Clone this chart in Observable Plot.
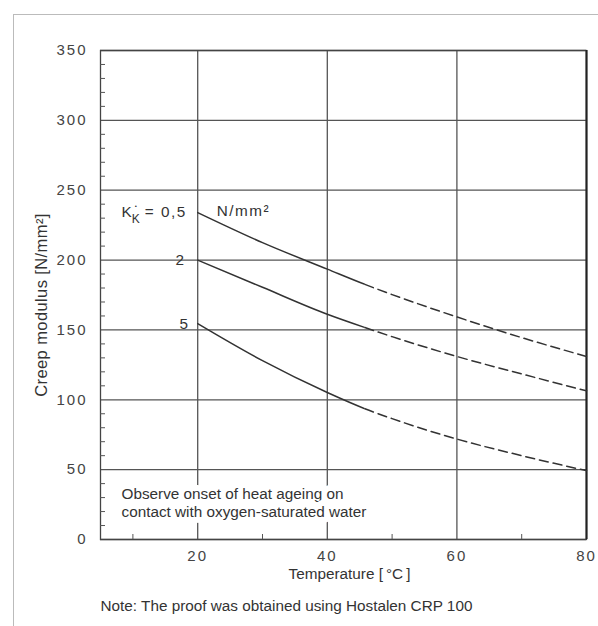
<!DOCTYPE html>
<html>
<head>
<meta charset="utf-8">
<script src="https://cdn.jsdelivr.net/npm/d3@7"></script>
<script src="https://cdn.jsdelivr.net/npm/@observablehq/plot@0.6"></script>
<style>
html, body { margin: 0; padding: 0; background: #fff; }
#wrap { position: relative; width: 598px; height: 626px; overflow: hidden; }
#chart { position: absolute; left: 0; top: 0; }
#border { position: absolute; left: 13px; top: 14px; right: -10px; bottom: -10px;
  border-left: 1.5px solid #bbb; border-top: 1.5px solid #bbb; pointer-events: none; }
#chart g[aria-label="y-axis tick label"] text,
#chart g[aria-label="x-axis tick label"] text { letter-spacing: 2px; }
.spaced text { letter-spacing: 1.5px; }
.ylab text { letter-spacing: 0.4px; }
</style>
</head>
<body>
<div id="wrap"><div id="chart"></div><div id="border"></div></div>
<script>
// Temperatures (°C) at which the curves were read
const temps = [20, 30, 40, 45.8, 50, 60, 70, 80];
// Solid (measured) part ends here, dashed (extrapolated) beyond
const solidEnd = 45.8;
// Creep modulus (N/mm²) for each creep stress K
const k05 = [234, 212.5, 193.5, 182.6, 175.3, 159.3, 144.5, 131];
const k2  = [200, 180.5, 161.2, 151.7, 145.2, 131, 118.5, 106.4];
const k5  = [154.5, 128, 105.2, 93.6, 86.5, 71.9, 60, 49.3];
const seriesNames = ["0,5", "2", "5"];
const seriesValues = [k05, k2, k5];

const yTicks = [0, 50, 100, 150, 200, 250, 300, 350];
const yMinor = [10, 20, 30, 40, 60, 70, 80, 90, 110, 120, 130, 140, 160, 170, 180, 190,
                210, 220, 230, 240, 260, 270, 280, 290, 310, 320, 330, 340];
const xTicks = [20, 40, 60, 80];
const xMinor = [10, 30, 50, 70];
const xDomain = [5, 80];
const yDomain = [0, 350];

const yLabel = "Creep modulus [N/mm²]";
const xLabel = "Temperature [\u2009°C\u2009]";
const note = "Note: The proof was obtained using Hostalen CRP 100";
const observe = "Observe onset of heat ageing on\ncontact with oxygen-saturated water";

const rows = [];
seriesNames.forEach((k, i) => temps.forEach((t, j) => rows.push({k, t, v: seriesValues[i][j]})));
const start = (i) => [{t: temps[0], v: seriesValues[i][0]}];

const grid = {stroke: "#555", strokeOpacity: 1, strokeWidth: 1.3};
const txt = {fill: "#333", fontSize: 15.3};
const dash = [9, 5];

const plot = Plot.plot({
  width: 598,
  height: 626,
  marginLeft: 100,
  marginRight: 12,
  marginTop: 50,
  marginBottom: 87,
  x: {domain: xDomain, label: null},
  y: {domain: yDomain, label: null},
  style: {fontFamily: "'Liberation Sans', Arial, sans-serif", fontSize: "14px", color: "#333", background: "transparent"},
  marks: [
    Plot.gridX(xTicks, grid),
    Plot.gridY(yTicks, grid),
    Plot.frame({stroke: "#444", strokeWidth: 1.3}),
    Plot.ruleX([xDomain[1]], {stroke: "#222", strokeWidth: 2}),
    Plot.axisY(yTicks, {tickSize: 0, tickPadding: 13, fontSize: 15, fill: "#444", label: null}),
    Plot.axisX(xTicks, {tickSize: 0, tickPadding: 11, fontSize: 15, fill: "#444", label: null}),
    Plot.axisY(yMinor, {tickSize: -5, tickFormat: () => "", stroke: "#555", label: null}),
    Plot.axisX(xMinor, {tickSize: -5, tickFormat: () => "", stroke: "#555", label: null}),
    Plot.line(rows, {x: "t", y: "v", z: "k", curve: "monotone-x", stroke: "#333", strokeWidth: 1.5, className: "solid-part"}),
    Plot.line(rows, {x: "t", y: "v", z: "k", curve: "monotone-x", stroke: "#333", strokeWidth: 1.5, strokeDasharray: dash.join(","), className: "dash-part"}),
    // K label
    Plot.text(start(0), {x: "t", y: "v", text: () => "K", dx: -71, ...txt}),
    Plot.text(start(0), {x: "t", y: "v", text: () => "K", dx: -62, dy: 7, fill: "#333", fontSize: 12}),
    Plot.text(start(0), {x: "t", y: "v", text: () => "•", dx: -62, dy: -6, fill: "#333", fontSize: 6}),
    Plot.text(start(0), {x: "t", y: "v", text: () => "= " + seriesNames[0], textAnchor: "end", dx: -11, className: "spaced", ...txt}),
    Plot.text(start(0), {x: "t", y: "v", text: () => "N/mm²", textAnchor: "start", dx: 19, dy: -1, className: "spaced", ...txt}),
    Plot.text(start(1), {x: "t", y: "v", text: () => seriesNames[1], dx: -18, ...txt}),
    Plot.text(start(2), {x: "t", y: "v", text: () => seriesNames[2], dx: -14, ...txt}),
    // annotations
    Plot.text([observe], {frameAnchor: "bottom-left", text: d => d, textAnchor: "start", lineAnchor: "middle", lineHeight: 1.16, dx: 21, dy: -37, stroke: "white", strokeWidth: 12, ...txt}),
    Plot.text([yLabel], {frameAnchor: "left", text: d => d, rotate: -90, textAnchor: "middle", dx: -59, dy: 10, className: "ylab", fill: "#333", fontSize: 16.5}),
    Plot.text([xLabel], {frameAnchor: "bottom", text: d => d, textAnchor: "middle", dx: 6, dy: 39, ...txt}),
    Plot.text([note], {frameAnchor: "bottom-left", text: d => d, textAnchor: "start", dy: 71, ...txt})
  ]
});
document.getElementById("chart").appendChild(plot);

// Solid part up to solidEnd, dashed part beyond it (split with clip paths so the curve stays smooth)
const xCut = plot.scale("x").apply(solidEnd);
const ns = "http://www.w3.org/2000/svg";
const defs = document.createElementNS(ns, "defs");
[["clip-solid", 0, xCut], ["clip-dash", xCut, 598 - xCut]].forEach(([id, x, w]) => {
  const cp = document.createElementNS(ns, "clipPath");
  cp.setAttribute("id", id);
  const r = document.createElementNS(ns, "rect");
  r.setAttribute("x", x); r.setAttribute("y", 0);
  r.setAttribute("width", w); r.setAttribute("height", 626);
  cp.appendChild(r); defs.appendChild(cp);
});
plot.insertBefore(defs, plot.firstChild);
const solidG = plot.querySelector("g.solid-part");
const dashG = plot.querySelector("g.dash-part");
if (solidG) solidG.setAttribute("clip-path", "url(#clip-solid)");
if (dashG) {
  dashG.setAttribute("clip-path", "url(#clip-dash)");
  const period = dash[0] + dash[1];
  dashG.querySelectorAll("path").forEach(p => {
    let lo = 0, hi = p.getTotalLength();
    for (let i = 0; i < 40; i++) {
      const mid = (lo + hi) / 2;
      if (p.getPointAtLength(mid).x < xCut) lo = mid; else hi = mid;
    }
    p.style.strokeDashoffset = (period - (lo % period)).toString();
  });
}
</script>
</body>
</html>
